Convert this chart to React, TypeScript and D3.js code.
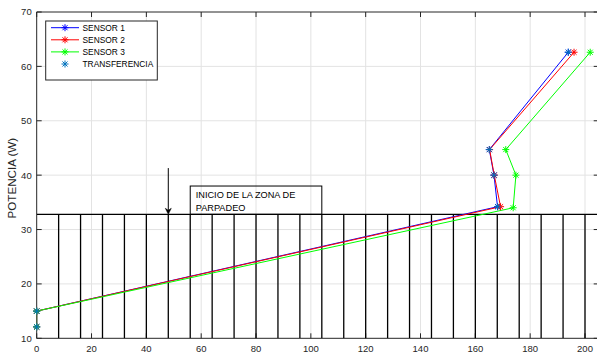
import React from "react";
import * as d3 from "d3";

const xTicks = [0, 20, 40, 60, 80, 100, 120, 140, 160, 180, 200];
const yTicks = [10, 20, 30, 40, 50, 60, 70];

const sensor1X = [0, 0, 168.1, 166.8, 165.1, 193.9];
const sensor1Y = [12.1, 15.0, 34.2, 40.0, 44.7, 62.6];
const sensor2X = [0, 0, 169.2, 166.9, 165.2, 196.0];
const sensor2Y = [12.1, 15.0, 34.2, 40.0, 44.7, 62.6];
const sensor3X = [0, 0, 173.8, 174.8, 171.1, 201.9];
const sensor3Y = [12.1, 15.0, 34.0, 40.0, 44.7, 62.6];
const transferX = [0, 0, 168.1, 166.8, 165.1, 193.9];
const transferY = [12.1, 15.0, 34.2, 40.0, 44.7, 62.6];

const seriesNames = ["SENSOR 1", "SENSOR 2", "SENSOR 3", "TRANSFERENCIA"];
const seriesColors = ["#0000ff", "#ff0000", "#00ff00", "#0072bd"];

const flickerLevel = 32.8;
const flickerLinesX = d3.range(8, 201, 8);
const arrowX = 48;
const arrowTopY = 41.3;
const boxX0 = 56;
const boxX1 = 104;
const boxY1 = 38;
const boxText = ["INICIO DE LA ZONA DE", "PARPADEO"];
const yLabel = "POTENCIA (W)";

const W = 597;
const H = 356;
const left = 36.7;
const top = 12;
const bottom = 338.3;
const xMax = 205;
const pxPerX = 2.7415;

const x = d3.scaleLinear().domain([0, xMax]).range([left, left + xMax * pxPerX]);
const y = d3.scaleLinear().domain([10, 70]).range([bottom, top]);

const FONT = "'Liberation Sans', Arial, Helvetica, sans-serif";
const AX = "#262626";

function star(cx: number, cy: number, r: number) {
  const d = r * 0.72;
  return `M${cx - r},${cy}L${cx + r},${cy}M${cx},${cy - r}L${cx},${cy + r}M${cx - d},${cy - d}L${cx + d},${cy + d}M${cx - d},${cy + d}L${cx + d},${cy - d}`;
}

export default function App() {
  const right = x(xMax);
  const series = [
    { xs: sensor1X, ys: sensor1Y, c: seriesColors[0] },
    { xs: sensor2X, ys: sensor2Y, c: seriesColors[1] },
    { xs: sensor3X, ys: sensor3Y, c: seriesColors[2] },
  ];
  const line = d3
    .line<[number, number]>()
    .x((d) => x(d[0]))
    .y((d) => y(d[1]));
  const ax = x(arrowX);
  const tipY = y(flickerLevel);
  return (
    <svg
      width={W}
      height={H}
      style={{ position: "absolute", left: 0, top: 0, background: "#fff" }}
      fontFamily={FONT}
    >
      <defs>
        <clipPath id="plot">
          <rect x={left} y={top} width={right - left} height={bottom - top} />
        </clipPath>
      </defs>
      <rect x={0} y={0} width={W} height={H} fill="#fff" />
      {/* grid */}
      {xTicks.slice(1).map((t) => (
        <line key={"gx" + t} x1={x(t)} x2={x(t)} y1={top} y2={bottom} stroke="#e3e3e3" strokeWidth={1} />
      ))}
      {yTicks.slice(1, -1).map((t) => (
        <line key={"gy" + t} x1={left} x2={right} y1={y(t)} y2={y(t)} stroke="#e3e3e3" strokeWidth={1} />
      ))}
      {/* axes box */}
      <line x1={left} x2={right} y1={bottom} y2={bottom} stroke={AX} strokeWidth={1} />
      <line x1={left} x2={right} y1={top} y2={top} stroke={AX} strokeWidth={1} />
      <line x1={left} x2={left} y1={top} y2={bottom} stroke={AX} strokeWidth={1} />
      <line x1={right} x2={right} y1={top} y2={bottom} stroke={AX} strokeWidth={1} />
      {xTicks.map((t) => (
        <g key={"tx" + t}>
          <line x1={x(t)} x2={x(t)} y1={bottom} y2={bottom - 5} stroke={AX} />
          <line x1={x(t)} x2={x(t)} y1={top} y2={top + 5} stroke={AX} />
          <text x={x(t)} y={bottom + 14} fontSize={9.5} fill={AX} textAnchor="middle">
            {t}
          </text>
        </g>
      ))}
      {yTicks.map((t) => (
        <g key={"ty" + t}>
          <line x1={left} x2={left + 5} y1={y(t)} y2={y(t)} stroke={AX} />
          <line x1={right} x2={right - 5} y1={y(t)} y2={y(t)} stroke={AX} />
          <text x={left - 5} y={y(t) + 3.4} fontSize={9.5} fill={AX} textAnchor="end">
            {t}
          </text>
        </g>
      ))}
      <text
        transform={`translate(16,${(top + bottom) / 2 + 3}) rotate(-90)`}
        fontSize={11.6}
        fill={AX}
        textAnchor="middle"
      >
        {yLabel}
      </text>
      {/* flicker zone */}
      <g clipPath="url(#plot)">
        <line x1={left} x2={right} y1={y(flickerLevel)} y2={y(flickerLevel)} stroke="#000" strokeWidth={1.2} />
        {flickerLinesX.map((v) => (
          <line key={"fl" + v} x1={x(v)} x2={x(v)} y1={y(flickerLevel)} y2={bottom} stroke="#000" strokeWidth={1.3} />
        ))}
        {/* data lines */}
        {series.map((s, i) => (
          <path
            key={"s" + i}
            d={line(s.xs.map((v, j) => [v, s.ys[j]] as [number, number])) || ""}
            fill="none"
            stroke={s.c}
            strokeWidth={1}
          />
        ))}
      </g>
      {/* markers (not clipped, like MATLAB) */}
      {series.map((s, i) => (
        <g key={"m" + i}>
          {s.xs.map((v, j) => (
            <path key={j} d={star(x(v), y(s.ys[j]), 3.5)} stroke={s.c} strokeWidth={1} fill="none" />
          ))}
        </g>
      ))}
      {transferX.map((v, j) => (
        <path key={"tr" + j} d={star(x(v), y(transferY[j]), 3.5)} stroke={seriesColors[3]} strokeWidth={1} fill="none" />
      ))}
      {/* annotation box */}
      <rect
        x={x(boxX0)}
        y={y(boxY1)}
        width={x(boxX1) - x(boxX0)}
        height={y(flickerLevel) - y(boxY1)}
        fill="none"
        stroke="#000"
        strokeWidth={1}
      />
      {boxText.map((t, i) => (
        <text key={"bt" + i} x={x(boxX0) + 5.5} y={y(boxY1) + 12.3 + i * 12.6} fontSize={9.2} fill="#000">
          {t}
        </text>
      ))}
      {/* arrow */}
      <line x1={ax} x2={ax} y1={y(arrowTopY)} y2={tipY - 2} stroke="#000" strokeWidth={1} />
      <path d={`M${ax},${tipY}L${ax - 3},${tipY - 6}L${ax},${tipY - 4}L${ax + 3},${tipY - 6}Z`} fill="#000" stroke="#000" strokeWidth={0.5} />
      {/* legend */}
      <g>
        <rect x={45.7} y={21} width={111.6} height={59} fill="#fff" stroke={AX} strokeWidth={1} />
        {seriesNames.map((n, i) => {
          const ly = 27.7 + i * 12.1;
          return (
            <g key={"lg" + i}>
              {i < 3 && <line x1={51} x2={79} y1={ly} y2={ly} stroke={seriesColors[i]} strokeWidth={1} />}
              <path d={star(65, ly, 3.5)} stroke={seriesColors[i]} strokeWidth={1} fill="none" />
              <text x={82.5} y={ly + 3} fontSize={8.4} fill="#000">
                {n}
              </text>
            </g>
          );
        })}
      </g>
    </svg>
  );
}
